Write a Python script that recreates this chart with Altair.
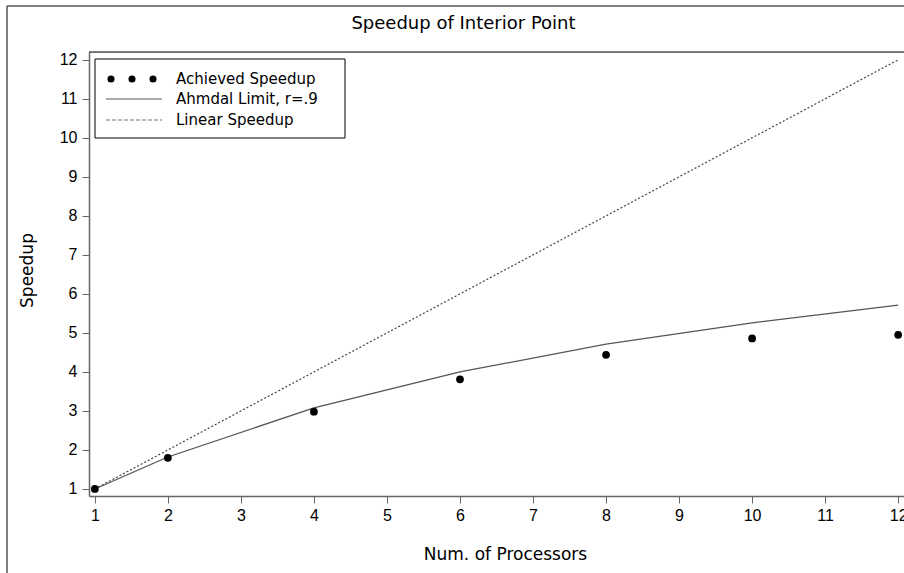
import altair as alt
import pandas as pd

# ---- data ----
processors = [1, 2, 4, 6, 8, 10, 12]
achieved = [1.0, 1.8, 2.98, 3.81, 4.44, 4.86, 4.95]
amdahl = [1.0, 1.82, 3.08, 4.0, 4.71, 5.26, 5.71]
linear = [1, 2, 4, 6, 8, 10, 12]
x_ticks = list(range(1, 13))
y_ticks = list(range(1, 13))
legend_labels = ["Achieved Speedup", "Ahmdal Limit, r=.9", "Linear Speedup"]

FONT = "Liberation Sans"
TFONT = "DejaVu Sans"
W, H = 815, 444

df = pd.DataFrame({"p": processors, "achieved": achieved, "amdahl": amdahl, "linear": linear})

xs = alt.Scale(domain=[0.92, 12.08], nice=False, zero=False)
ys = alt.Scale(domain=[0.82, 12.2], nice=False, zero=False)

xaxis = alt.Axis(values=x_ticks, format="d", title="Num. of Processors", grid=False, tickSize=7,
                 labelFontSize=16, titleFontSize=17, labelPadding=4, titleFont=TFONT, labelFont=FONT,
                 titleFontWeight="normal", titleX=416, titleY=63, titleBaseline="alphabetic",
                 domainColor="#666", domainWidth=1.5, tickColor="#666", labelColor="black",
                 titleColor="black")
yaxis = alt.Axis(values=y_ticks, format="d", title="Speedup", grid=False, tickSize=7,
                 labelFontSize=16, titleFontSize=17, labelPadding=5, titleFont=TFONT, labelFont=FONT,
                 titleFontWeight="normal", titleX=-57, titleY=218, titleBaseline="alphabetic",
                 titleAngle=270, titleAlign="center",
                 domainColor="#666", domainWidth=1.5, tickColor="#666", labelColor="black",
                 titleColor="black")

base = alt.Chart(df)

lin = base.mark_line(color="#444", strokeWidth=1.2, strokeDash=[2, 2]).encode(
    x=alt.X("p:Q", scale=xs, axis=xaxis),
    y=alt.Y("linear:Q", scale=ys, axis=yaxis),
)
amd = base.mark_line(color="#555", strokeWidth=1.3).encode(
    x=alt.X("p:Q", scale=xs),
    y=alt.Y("amdahl:Q", scale=ys),
)
pts = base.mark_circle(color="black", size=60, opacity=1).encode(
    x=alt.X("p:Q", scale=xs),
    y=alt.Y("achieved:Q", scale=ys),
)

one = alt.Chart(pd.DataFrame({"k": [0]}))

# frame lines
top_rule = one.mark_rule(color="black", strokeWidth=1).encode(
    x=alt.value(0), x2=alt.value(W), y=alt.value(0))
outer_left = one.mark_rule(color="#555", strokeWidth=1.5).encode(
    x=alt.value(-82), y=alt.value(-46), y2=alt.value(530))
outer_top = one.mark_rule(color="#555", strokeWidth=1.5).encode(
    x=alt.value(-82), x2=alt.value(W), y=alt.value(-46))

# legend
box = one.mark_rect(fill="white", stroke="black", strokeWidth=1).encode(
    x=alt.value(6), x2=alt.value(256), y=alt.value(7), y2=alt.value(86))
leg_layers = [box]
for dx in (22, 43, 64):
    leg_layers.append(one.mark_circle(color="black", size=50, opacity=1).encode(
        x=alt.value(dx), y=alt.value(27)))
leg_layers.append(one.mark_rule(color="#555", strokeWidth=1).encode(
    x=alt.value(17), x2=alt.value(73), y=alt.value(47)))
leg_layers.append(one.mark_rule(color="#777", strokeWidth=1, strokeDash=[4, 2]).encode(
    x=alt.value(17), x2=alt.value(73), y=alt.value(68)))
for i, lab in enumerate(legend_labels):
    leg_layers.append(one.mark_text(text=lab, font=TFONT, fontSize=15, align="left",
                                    baseline="middle", color="black").encode(
        x=alt.value(87), y=alt.value([27, 47, 68][i])))

chart = alt.layer(outer_left, outer_top, lin, amd, pts, top_rule, *leg_layers).properties(
    width=W, height=H,
    title=alt.TitleParams("Speedup of Interior Point", font=TFONT, fontSize=18,
                          fontWeight="normal", color="black", anchor="middle",
                          frame="group", baseline="alphabetic", dx=-33, dy=42, offset=0),
    autosize=alt.AutoSizeParams(type="none"),
    padding={"left": 89, "top": 52, "right": 0, "bottom": 77},
).configure_view(stroke=None).configure(background="white")

chart.save("out.html", embed_options={"renderer": "svg", "actions": False})
